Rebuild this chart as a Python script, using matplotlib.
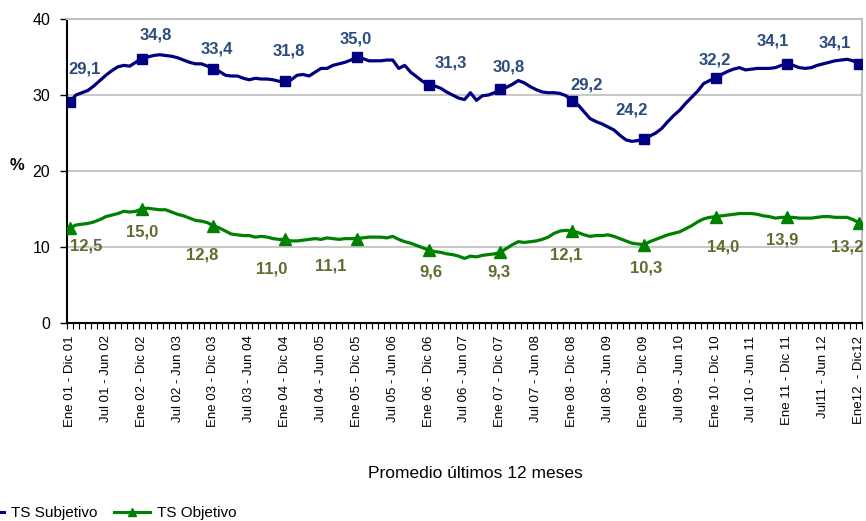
import numpy as np
import matplotlib
matplotlib.use("Agg")
import matplotlib.pyplot as plt
from matplotlib.ticker import FixedLocator

plt.rcParams['font.family'] = ['Liberation Sans', 'DejaVu Sans']

# monthly 12-month moving average, Dic 01 .. Dic 12 (133 points)
subjetivo = [
    29.1, 30.0, 30.3, 30.6, 31.2, 31.9, 32.6, 33.2, 33.7, 33.9, 33.8, 34.3,
    34.8, 35.0, 35.2, 35.3, 35.2, 35.1, 34.9, 34.6, 34.3, 34.1, 34.1, 33.8,
    33.4, 33.1, 32.6, 32.5, 32.5, 32.2, 32.0, 32.2, 32.1, 32.1, 32.0, 31.8,
    31.8, 32.0, 32.6, 32.7, 32.5, 33.0, 33.5, 33.5, 33.9, 34.1, 34.3, 34.6,
    35.0, 34.8, 34.5, 34.5, 34.5, 34.6, 34.6, 33.5, 33.9, 33.0, 32.4, 31.8,
    31.3, 31.2, 30.9, 30.4, 30.0, 29.6, 29.4, 30.3, 29.3, 29.9, 30.0, 30.3,
    30.8, 31.0, 31.4, 31.9, 31.6, 31.1, 30.7, 30.4, 30.3, 30.3, 30.2, 29.9,
    29.2, 28.7, 27.8, 26.9, 26.5, 26.2, 25.8, 25.4, 24.7, 24.1, 23.9, 24.0,
    24.2, 24.6, 25.0, 25.6, 26.5, 27.3, 28.0, 28.9, 29.7, 30.5, 31.5, 31.9,
    32.2, 32.7, 33.1, 33.4, 33.6, 33.3, 33.4, 33.5, 33.5, 33.5, 33.6, 33.9,
    34.1, 33.9, 33.6, 33.5, 33.6, 33.9, 34.1, 34.3, 34.5, 34.6, 34.7, 34.5,
    34.1,
]
objetivo = [
    12.5, 12.9, 13.0, 13.1, 13.3, 13.6, 14.0, 14.2, 14.4, 14.7, 14.6, 14.7,
    15.0, 15.1, 15.0, 14.9, 14.9, 14.6, 14.3, 14.1, 13.8, 13.5, 13.4, 13.2,
    12.8, 12.5, 12.1, 11.7, 11.6, 11.5, 11.5, 11.3, 11.4, 11.3, 11.1, 11.0,
    11.0, 10.8, 10.8, 10.9, 11.0, 11.1, 11.0, 11.2, 11.1, 11.0, 11.1, 11.1,
    11.1, 11.2, 11.3, 11.3, 11.3, 11.2, 11.4, 11.0, 10.7, 10.5, 10.2, 9.9,
    9.6, 9.4, 9.3, 9.1, 9.0, 8.8, 8.5, 8.8, 8.7, 8.9, 9.0, 9.1,
    9.3, 9.8, 10.3, 10.7, 10.6, 10.7, 10.8, 11.0, 11.3, 11.8, 12.1, 12.2,
    12.1, 11.9, 11.6, 11.4, 11.5, 11.5, 11.6, 11.4, 11.1, 10.8, 10.5, 10.4,
    10.3, 10.7, 11.0, 11.3, 11.6, 11.8, 12.0, 12.4, 12.8, 13.3, 13.7, 13.9,
    14.0, 14.1, 14.2, 14.3, 14.4, 14.4, 14.4, 14.3, 14.1, 14.0, 13.8, 13.9,
    13.9, 13.9, 13.8, 13.8, 13.8, 13.9, 14.0, 14.0, 13.9, 13.9, 13.9, 13.6,
    13.2,
]
tick_labels = [
    "Ene 01 - Dic 01", "Jul 01 - Jun 02", "Ene 02 - Dic 02", "Jul 02 - Jun 03",
    "Ene 03 - Dic 03", "Jul 03 - Jun 04", "Ene 04 - Dic 04", "Jul 04 - Jun 05",
    "Ene 05 - Dic 05", "Jul 05 - Jun 06", "Ene 06 - Dic 06", "Jul 06 - Jun 07",
    "Ene 07 - Dic 07", "Jul 07 - Jun 08", "Ene 08 - Dic 08", "Jul 08 - Jun 09",
    "Ene 09 - Dic 09", "Jul 09 - Jun 10", "Ene 10 - Dic 10", "Jul 10 - Jun 11",
    "Ene 11 - Dic 11", "Jul11 - Jun 12", "Ene12  - Dic12",
]

# label offsets in pixels (dx, dy) for the yearly markers
off_subj = [(15, 33), (14, 24), (3, 20), (4, 30), (-1, 18), (22, 22),
            (8, 22), (14, 16), (-12, 29), (-1, 18), (-14, 23), (-24, 21)]
off_obj = [(16, -18), (0, -23), (-11, -29), (-13, -30), (-26, -27), (2, -22),
           (-1, -20), (-6, -24), (2, -23), (8, -30), (-5, -23), (-12, -24)]

n = len(subjetivo)
x = np.arange(n)
yearly = x[::12]

fig = plt.figure(figsize=(8.66, 5.21), dpi=100)
ax = fig.add_axes([67 / 866, 1 - 323 / 521, 795 / 866, 304 / 521])

navy = '#000080'
green = '#008000'

ax.plot(x, subjetivo, color=navy, lw=2.3, zorder=3)
ax.plot(yearly, np.array(subjetivo)[yearly], ls='none', marker='s',
        ms=7.5, color=navy, zorder=4)
ax.plot(x, objetivo, color=green, lw=2.3, zorder=3)
ax.plot(yearly, np.array(objetivo)[yearly], ls='none', marker='^',
        ms=8.5, color=green, zorder=4)

for k, i in enumerate(yearly):
    ax.annotate(f"{subjetivo[i]:.1f}".replace('.', ','), (i, subjetivo[i]),
                xytext=off_subj[k], textcoords='offset pixels',
                ha='center', va='center', fontsize=12, fontweight='bold',
                color='#2B4C7E')
    ax.annotate(f"{objetivo[i]:.1f}".replace('.', ','), (i, objetivo[i]),
                xytext=off_obj[k], textcoords='offset pixels',
                ha='center', va='center', fontsize=12, fontweight='bold',
                color='#5F6B2F')

ax.set_xlim(-0.5, n - 0.5)
ax.set_ylim(0, 40)
ax.set_yticks([0, 10, 20, 30, 40])
ax.set_yticklabels(['0', '10', '20', '30', '40'], fontsize=11.5)
ax.yaxis.grid(True, color='#C8C8C8', lw=1.5)
ax.set_axisbelow(True)

ax.set_xticks(np.arange(0, n, 6))
ax.set_xticklabels(tick_labels, rotation=90, fontsize=9.5, va='top', ha='center')
ax.xaxis.set_minor_locator(FixedLocator(np.arange(-0.5, n, 1)))
ax.tick_params(axis='x', which='major', length=0, pad=9)
ax.tick_params(axis='x', which='minor', length=4, width=0.8, direction='out')
ax.tick_params(axis='y', length=5, width=1, pad=7)

for side in ['top', 'right']:
    ax.spines[side].set_color('#C0C0C0')
    ax.spines[side].set_linewidth(1.5)
ax.spines['left'].set_linewidth(1.5)
ax.spines['bottom'].set_linewidth(1.5)

fig.text(17 / 866, 1 - 165 / 521, '%', fontsize=12, fontweight='bold',
         ha='center', va='center')
fig.text(475 / 866, 1 - 474 / 521, 'Promedio últimos 12 meses', fontsize=12.5,
         ha='center', va='center')

h1, = ax.plot([], [], color=navy, lw=2.2, marker='s', ms=6)
h2, = ax.plot([], [], color=green, lw=2.2, marker='^', ms=6)
fig.legend([h1, h2], ['TS Subjetivo', 'TS Objetivo'], loc='center left',
           bbox_to_anchor=(-33 / 866, 1 - 513 / 521), ncol=2, frameon=False,
           fontsize=11, handlelength=2.4, handletextpad=0.45, columnspacing=1.1,
           borderpad=0, borderaxespad=0)

fig.savefig('out.png', dpi=100)
